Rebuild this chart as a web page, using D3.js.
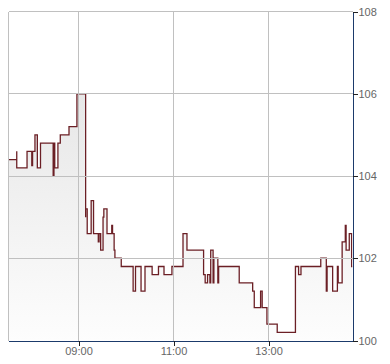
<!DOCTYPE html>
<html><head><meta charset="utf-8">
<script src="https://cdn.jsdelivr.net/npm/d3@7"></script>
<style>
html,body{margin:0;padding:0;background:#fff;}
svg{display:block;}
text{font-family:"Liberation Sans",Arial,sans-serif;}
</style></head>
<body>
<svg id="chart" width="390" height="364"></svg>
<script>
// ---- data ----
const times = ["07:31","07:42","07:42","07:55","08:01","08:02","08:05","08:08","08:12","08:28","08:29","08:30","08:34","08:37","08:48","08:58",
"09:09","09:09","09:11","09:16","09:19","09:25","09:26","09:28","09:31","09:32","09:36","09:42","09:43","09:45","09:46","09:54",
"10:09","10:12","10:19","10:24","10:33","10:41","10:48","10:58","11:12","11:17","11:38","11:40","11:43","11:46","11:47","11:50",
"11:51","11:56","11:57","12:23","12:40","12:42","12:50","12:52","12:58","13:11","13:34","13:38","13:41","14:06","14:13","14:14",
"14:21","14:27","14:28","14:33","14:37","14:38","14:42","14:45"];
const values = [104.4,104.6,104.2,104.6,104.25,104.6,105.0,104.2,104.8,104.0,104.8,104.2,104.8,105.0,105.2,106.0,
103.0,103.2,102.6,103.4,102.6,102.4,102.6,102.2,103.0,103.2,102.6,102.8,102.6,102.2,102.0,101.8,
101.2,101.8,101.2,101.8,101.6,101.8,101.6,101.8,102.6,102.2,101.6,101.4,101.6,101.4,102.2,101.4,
102.0,101.4,101.8,101.4,101.2,100.8,101.2,100.8,100.4,100.2,101.8,101.6,101.8,102.0,101.2,101.8,
101.2,101.8,101.4,102.4,102.8,102.2,102.6,101.8];
const xDomain = ["07:31:35","14:46:05"];
const xTickLabels = ["09:00","11:00","13:00"];
const yTicks = [100,102,104,106,108];
const yDomain = [100,108];

// ---- layout ----
const L = 8.5, R = 352.5, T = 11.5, B = 340.5;
const parseHM = d3.timeParse("%H:%M");
const parseHMS = d3.timeParse("%H:%M:%S");
const x = d3.scaleTime().domain(xDomain.map(parseHMS)).range([L, R]);
const y = d3.scaleLinear().domain(yDomain).range([B, T]);

const data = times.map((t,i)=>({t:parseHM(t), v:values[i]}));
data.push({t:x.domain()[1], v:values[values.length-1]});

const svg = d3.select("#chart");
const defs = svg.append("defs");
defs.append("clipPath").attr("id","clip").append("rect")
  .attr("x",L).attr("y",T).attr("width",R-L).attr("height",B-T);
const grad = defs.append("linearGradient").attr("id","fillg")
  .attr("gradientUnits","userSpaceOnUse").attr("x1",0).attr("x2",0)
  .attr("y1",y(106)).attr("y2",B);
grad.append("stop").attr("offset",0).attr("stop-color","#e7e7e7");
grad.append("stop").attr("offset",1).attr("stop-color","#fdfdfd");

const g = svg.append("g").attr("clip-path","url(#clip)");
g.append("path").datum(data)
  .attr("fill","url(#fillg)")
  .attr("d", d3.area().curve(d3.curveStepAfter).x(d=>x(d.t)).y0(y(yDomain[0])).y1(d=>y(d.v)));

// grid
const grid = svg.append("g").attr("stroke","#c0c0c0").attr("stroke-width",1).attr("shape-rendering","crispEdges");
yTicks.filter(v=>v>yDomain[0]).forEach(v=>{
  grid.append("line").attr("x1",L).attr("x2",R).attr("y1",y(v)).attr("y2",y(v));
});
xTickLabels.forEach(t=>{
  grid.append("line").attr("x1",x(parseHM(t))).attr("x2",x(parseHM(t))).attr("y1",T).attr("y2",B);
});
grid.append("line").attr("x1",L).attr("x2",L).attr("y1",T).attr("y2",B);

g.append("path").datum(data)
  .attr("fill","none").attr("stroke","#6b1f25").attr("stroke-width",1.3)
  .attr("d", d3.line().curve(d3.curveStepAfter).x(d=>x(d.t)).y(d=>y(d.v)));

// axes
const xAxis = svg.append("g").attr("transform",`translate(0,${B})`)
  .call(d3.axisBottom(x).tickValues(xTickLabels.map(parseHM)).tickFormat(d3.timeFormat("%H:%M")).tickSize(5).tickSizeOuter(0).tickPadding(2));
const yAxis = svg.append("g").attr("transform",`translate(${R},0)`)
  .call(d3.axisRight(y).tickValues(yTicks).tickFormat(d3.format("d")).tickSize(5).tickSizeOuter(0).tickPadding(1));
[xAxis,yAxis].forEach(a=>{
  a.select(".domain").attr("stroke","#1b3a6b").attr("stroke-width",1).attr("shape-rendering","crispEdges");
  a.selectAll(".tick line").attr("stroke","#222").attr("shape-rendering","crispEdges");
  a.selectAll(".tick text").attr("fill","#666").attr("font-size","11px").attr("font-family","'Liberation Sans',Arial,sans-serif");
});
</script>
</body></html>
